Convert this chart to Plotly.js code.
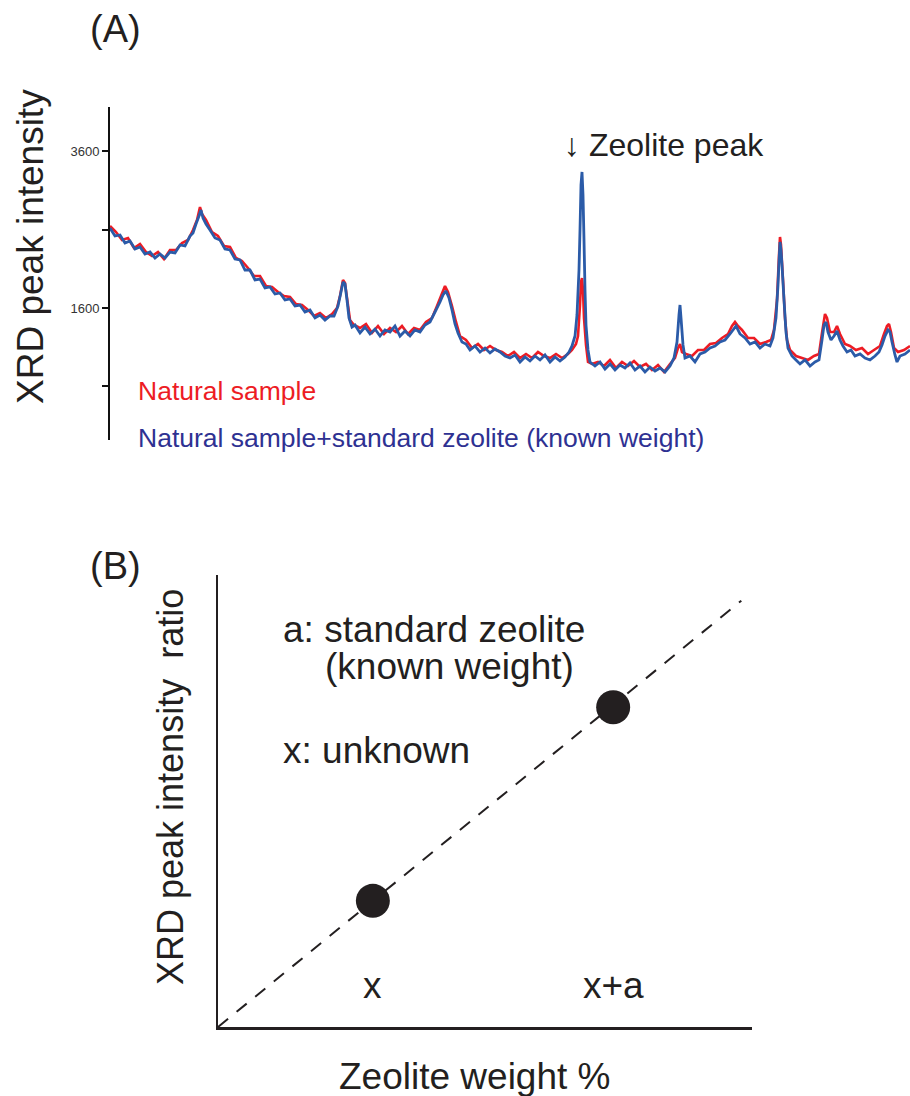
<!DOCTYPE html>
<html>
<head>
<meta charset="utf-8">
<script src="https://cdn.plot.ly/plotly-3.0.1.min.js"></script>
<style>html,body{margin:0;padding:0;background:#fff;}#chart{width:910px;height:1096px;}</style>
</head>
<body>
<div id="chart"></div>
<script>
// ---- Panel A: XRD patterns (2-theta in degrees, intensity in counts) ----
const twoThetaBlue = [
5,5.25,5.5,5.75,6,6.25,6.5,6.75,7,7.25,
7.5,7.75,8,8.25,8.5,8.75,9,9.15,9.3,9.45,
9.55,9.65,9.8,10,10.25,10.5,10.75,11,11.25,11.5,
11.75,12,12.25,12.5,12.75,13,13.25,13.5,13.75,14,
14.25,14.5,14.75,15,15.25,15.5,15.75,16,16.2,16.4,
16.55,16.65,16.75,16.85,16.95,17.1,17.25,17.5,17.75,18,
18.25,18.5,18.75,19,19.25,19.5,19.75,20,20.25,20.5,
20.75,21,21.25,21.5,21.65,21.8,21.95,22.1,22.25,22.4,
22.6,22.8,23,23.25,23.5,23.75,24,24.25,24.5,24.75,
25,25.25,25.5,25.75,26,26.25,26.5,26.75,27,27.25,
27.5,27.75,27.95,28.1,28.25,28.35,28.45,28.5,28.55,28.6,
28.65,28.7,28.75,28.8,28.9,29,29.25,29.5,29.75,30,
30.25,30.5,30.75,31,31.25,31.5,31.75,32,32.25,32.5,
32.75,33,33.2,33.35,33.45,33.5,33.55,33.65,33.75,34,
34.25,34.5,34.75,35,35.25,35.5,35.75,36,36.15,36.3,
36.5,36.75,37,37.25,37.5,37.75,38,38.15,38.3,38.4,
38.45,38.5,38.55,38.6,38.7,38.8,38.9,39.1,39.3,39.5,
39.75,40,40.25,40.45,40.6,40.7,40.8,40.9,41.05,41.2,
41.35,41.5,41.65,41.85,42.05,42.25,42.5,42.75,43,43.25,
43.45,43.6,43.75,43.9,44,44.1,44.25,44.35,44.5,44.75,45
];
const intensityBlue = [
2619,2517,2530,2428,2454,2352,2377,2288,2313,2237,
2288,2237,2313,2301,2403,2390,2517,2556,2670,2772,
2849,2747,2670,2594,2492,2466,2352,2339,2224,2212,
2084,2084,1957,1969,1855,1868,1778,1791,1702,1715,
1625,1638,1549,1575,1473,1511,1447,1498,1498,1625,
1804,1931,1906,1702,1473,1358,1383,1282,1358,1269,
1332,1243,1320,1294,1371,1243,1307,1243,1320,1294,
1383,1422,1549,1676,1766,1817,1727,1575,1396,1282,
1167,1141,1065,1116,1039,1090,1027,1078,1039,988,
963,1001,912,976,925,988,938,1001,912,976,
925,976,1039,1116,1243,1511,2084,2594,3167,3333,
3040,2466,1829,1383,1065,912,861,912,823,887,
810,874,836,899,810,861,785,848,797,836,
785,861,963,1167,1511,1638,1473,1129,963,988,
912,1014,1039,1090,1116,1167,1192,1269,1320,1371,
1269,1218,1141,1167,1090,1141,1116,1218,1473,1893,
2186,2441,2339,2148,1702,1294,1090,988,938,887,
938,861,912,938,1192,1383,1422,1294,1192,1243,
1307,1192,1116,1039,1065,988,1014,963,938,988,
1039,1129,1243,1320,1294,1167,1001,912,988,1014,1065
];
const twoThetaRed = [
5,5.3,5.6,5.9,6.2,6.5,6.8,7.1,7.4,7.7,
8,8.3,8.6,8.9,9.15,9.35,9.5,9.6,9.8,10.1,
10.4,10.7,11,11.3,11.6,11.9,12.2,12.5,12.8,13.1,
13.4,13.7,14,14.3,14.6,14.9,15.2,15.5,15.8,16.1,
16.35,16.5,16.65,16.75,16.85,17,17.2,17.5,17.8,18.1,
18.4,18.7,19,19.3,19.6,19.9,20.2,20.5,20.8,21.1,
21.35,21.55,21.75,21.9,22.1,22.3,22.5,22.8,23.1,23.4,
23.7,24,24.3,24.6,24.9,25.2,25.5,25.8,26.1,26.4,
26.7,27,27.3,27.6,27.9,28.1,28.3,28.4,28.5,28.55,
28.6,28.65,28.7,28.8,28.9,29.1,29.4,29.7,30,30.3,
30.6,30.9,31.2,31.5,31.8,32.1,32.4,32.7,33,33.25,
33.4,33.5,33.6,33.8,34.1,34.4,34.7,35,35.3,35.6,
35.9,36.1,36.25,36.4,36.6,36.9,37.2,37.5,37.8,38.05,
38.2,38.35,38.45,38.5,38.55,38.65,38.75,38.85,39,39.3,
39.6,39.9,40.2,40.45,40.6,40.75,40.85,41,41.2,41.35,
41.5,41.75,42,42.3,42.6,42.9,43.2,43.5,43.7,43.85,
43.95,44.05,44.2,44.4,44.7,45
];
const intensityRed = [
2645,2568,2466,2492,2364,2415,2313,2262,2313,2224,
2339,2339,2428,2466,2594,2721,2887,2798,2721,2568,
2517,2390,2377,2237,2199,2110,2008,2008,1880,1868,
1804,1753,1740,1651,1638,1575,1498,1536,1473,1524,
1600,1753,1957,1919,1727,1447,1383,1345,1396,1282,
1371,1269,1345,1294,1371,1269,1345,1320,1422,1473,
1625,1753,1880,1804,1625,1422,1243,1192,1090,1141,
1065,1116,1065,1039,988,1039,963,1014,963,1039,
988,963,1014,963,1014,1065,1141,1243,1638,1931,
1982,1829,1473,1129,912,887,912,861,938,836,
912,861,925,848,887,810,874,785,887,963,
1090,1141,1039,1014,988,1065,1065,1141,1154,1218,
1269,1371,1422,1371,1320,1218,1218,1141,1167,1192,
1320,1702,2275,2505,2403,1957,1473,1192,1065,988,
963,938,988,1014,1282,1524,1473,1294,1294,1371,
1269,1141,1116,1065,1090,1014,1065,1116,1269,1371,
1396,1294,1090,1039,1065,1116
];
const intensityTickVals = [600, 1600, 2600, 3600];
const intensityTickText = ['', '1600', '', '3600'];

// ---- Panel B: standard-addition calibration (schematic) ----
const weightPct = [2.9, 7.4];
const intensityRatio = [2.9, 7.35];
const pointLabels = ['x', 'x+a'];
const fitX = [0, 9.8];
const fitY = [0, 9.8];

const W = 910, H = 1096;
const px = v => v / W;
const py = v => 1 - v / H;
const ink = '#231f20';
const FONT = 'Liberation Sans, Arial, Helvetica, sans-serif';

const traces = [
  {x: twoThetaRed, y: intensityRed, type: 'scatter', mode: 'lines',
   line: {color: '#ed1c24', width: 2.6, simplify: false}, xaxis: 'x', yaxis: 'y', hoverinfo: 'skip'},
  {x: twoThetaBlue, y: intensityBlue, type: 'scatter', mode: 'lines',
   line: {color: '#2b5ba8', width: 2.8, simplify: false}, xaxis: 'x', yaxis: 'y', hoverinfo: 'skip'},
  {x: fitX, y: fitY, type: 'scatter', mode: 'lines',
   line: {color: ink, width: 2, dash: '13px,11px'}, xaxis: 'x2', yaxis: 'y2', hoverinfo: 'skip'},
  {x: weightPct, y: intensityRatio, type: 'scatter', mode: 'markers',
   marker: {color: ink, size: 34}, xaxis: 'x2', yaxis: 'y2', hoverinfo: 'skip', cliponaxis: false}
];

function ann(text, x, y, size, opts) {
  return Object.assign({text: text, x: x, y: y, xref: 'paper', yref: 'paper', showarrow: false,
    xanchor: 'center', yanchor: 'middle', font: {family: FONT, size: size, color: ink}}, opts || {});
}

const annotations = [
  ann('(A)', px(115), py(29), 38),
  ann('(B)', px(115), py(566), 38),
  ann('XRD peak intensity', px(30), py(247), 37, {textangle: -90}),
  ann('↓ Zeolite peak', px(562), py(145), 32, {xanchor: 'left'}),
  ann('Natural sample', px(136), py(391), 26.5, {xanchor: 'left', font: {family: FONT, size: 26.5, color: '#ed1c24'}}),
  ann('Natural sample+standard zeolite (known weight)', px(136), py(438), 26.5,
      {xanchor: 'left', font: {family: FONT, size: 26.5, color: '#2e3192'}}),
  ann('XRD peak intensity  ratio', px(170), py(787), 36, {textangle: -90}),
  ann('a: standard zeolite', px(281), py(629), 37, {xanchor: 'left'}),
  ann('(known weight)', px(323), py(666), 37, {xanchor: 'left'}),
  ann('x: unknown', px(281), py(750), 37, {xanchor: 'left'}),
  ann('Zeolite weight %', px(474), py(1076), 37),
  {text: pointLabels[0], x: weightPct[0], y: 0.95, xref: 'x2', yref: 'y2', showarrow: false,
   xanchor: 'center', yanchor: 'middle', font: {family: FONT, size: 37, color: ink}},
  {text: pointLabels[1], x: weightPct[1], y: 0.95, xref: 'x2', yref: 'y2', showarrow: false,
   xanchor: 'center', yanchor: 'middle', font: {family: FONT, size: 37, color: ink}}
];

const layout = {
  width: W, height: H,
  margin: {l: 0, r: 0, t: 0, b: 0, pad: 0},
  paper_bgcolor: '#ffffff', plot_bgcolor: 'rgba(0,0,0,0)',
  showlegend: false,
  font: {family: FONT, color: ink},
  xaxis: {domain: [px(110), 1], range: [5, 45], visible: false, fixedrange: true},
  yaxis: {domain: [py(440), py(107)], range: [-82, 4161], anchor: 'x',
    showline: true, linecolor: '#111', linewidth: 2, mirror: false,
    ticks: 'outside', ticklen: 6, tickwidth: 2, tickcolor: '#111',
    tickvals: intensityTickVals, ticktext: intensityTickText,
    tickfont: {family: FONT, size: 13, color: '#333'},
    showgrid: false, zeroline: false, fixedrange: true},
  xaxis2: {domain: [px(218), px(752)], range: [0, 10], anchor: 'y2',
    showline: true, linecolor: ink, linewidth: 2.5, showticklabels: false, ticks: '',
    showgrid: false, zeroline: false, fixedrange: true},
  yaxis2: {domain: [py(1027), py(575)], range: [0, 10.39], anchor: 'x2',
    showline: true, linecolor: ink, linewidth: 2.5, showticklabels: false, ticks: '',
    showgrid: false, zeroline: false, fixedrange: true},
  annotations: annotations
};

Plotly.newPlot('chart', traces, layout, {staticPlot: true, displayModeBar: false});
</script>
</body>
</html>
